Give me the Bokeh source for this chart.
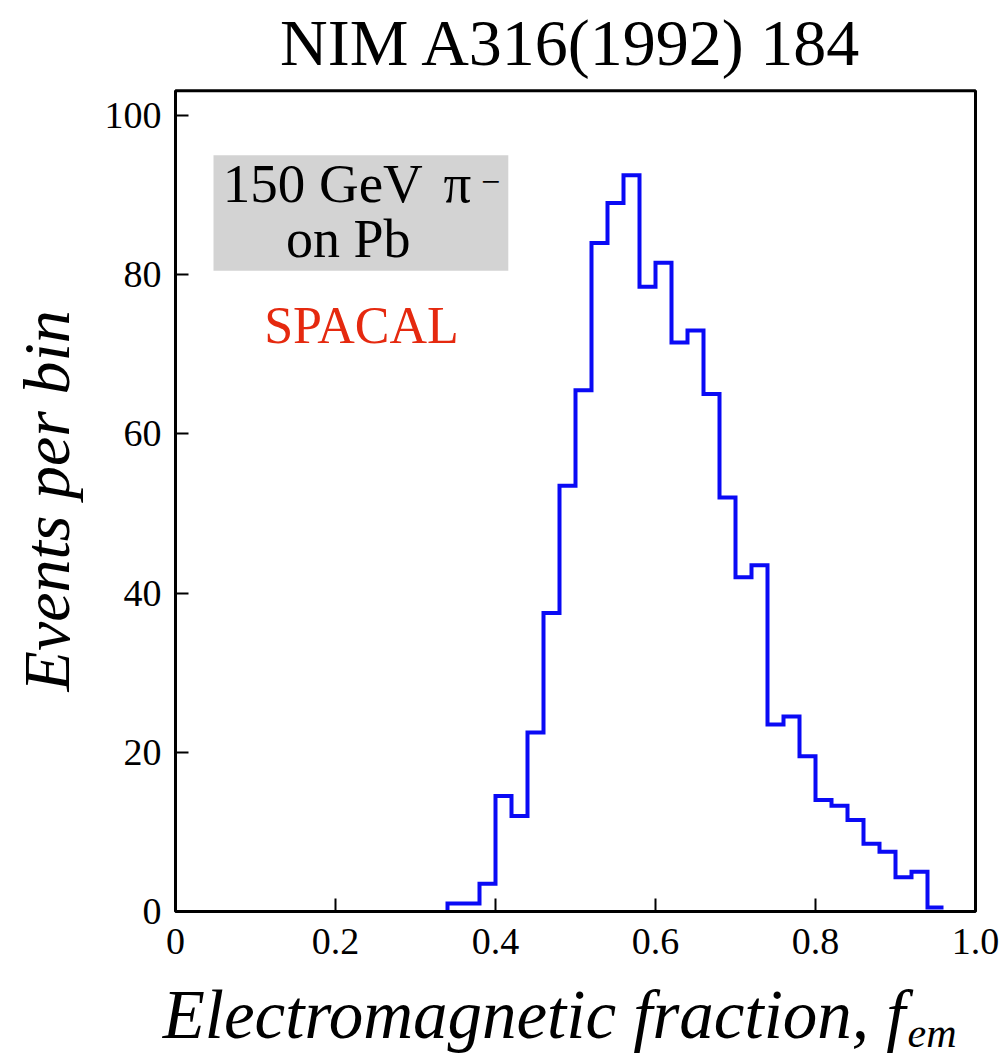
import math
from bokeh.plotting import figure
from bokeh.models import Label, BoxAnnotation, FixedTicker, Range1d
from bokeh.embed import file_html
from bokeh.resources import INLINE

# ---- data ----
bin_left = [0.34, 0.36, 0.38, 0.40, 0.42, 0.44, 0.46, 0.48, 0.50, 0.52,
            0.54, 0.56, 0.58, 0.60, 0.62, 0.64, 0.66, 0.68, 0.70, 0.72,
            0.74, 0.76, 0.78, 0.80, 0.82, 0.84, 0.86, 0.88, 0.90, 0.92, 0.94]
bin_width = 0.02
events = [1.0, 1.0, 3.5, 14.5, 12.0, 22.5, 37.5, 53.5, 65.5, 84.0,
          89.0, 92.5, 78.5, 81.5, 71.5, 73.0, 65.0, 52.0, 42.0, 43.5,
          23.5, 24.5, 19.5, 14.0, 13.3, 11.5, 8.5, 7.5, 4.3, 5.0, 0.5]
x_ticks = [0, 0.2, 0.4, 0.6, 0.8, 1.0]
x_tick_labels = ["0", "0.2", "0.4", "0.6", "0.8", "1.0"]
y_ticks = [0, 20, 40, 60, 80, 100]
x_min, x_max = 0.0, 1.0
y_min, y_max = 0.0, 103.1

title_text = "NIM A316(1992) 184"
x_title = "Electromagnetic fraction, f"
x_title_sub = "em"
y_title = "Events per bin"

SERIF = "Liberation Serif"

# step outline built from the bins
xs, ys = [], []
for i, (l, v) in enumerate(zip(bin_left, events)):
    prev = 0.0 if i == 0 else events[i - 1]
    xs += [l, l]
    ys += [prev, v]
xs.append(bin_left[-1] + bin_width)
ys.append(events[-1])

# the frame fills the canvas; axes sit at fixed locations inside it
p = figure(width=1006, height=1059, output_backend="svg", toolbar_location=None,
           x_range=Range1d(-0.21875, 1.03875), y_range=Range1d(-18.59, 114.45))
p.min_border = 0
p.min_border_left = 0
p.min_border_right = 0
p.min_border_top = 0
p.min_border_bottom = 0
p.background_fill_color = "white"
p.border_fill_color = "white"
p.outline_line_color = None
p.xgrid.visible = False
p.ygrid.visible = False

for ax in (p.xaxis, p.yaxis):
    ax.fixed_location = 0
    ax.axis_line_color = None
    ax.major_tick_in = 13
    ax.major_tick_out = 0
    ax.major_tick_line_width = 2
    ax.major_tick_line_color = "black"
    ax.minor_tick_line_color = None
    ax.major_label_text_font = SERIF
    ax.major_label_text_font_size = "38px"
    ax.major_label_text_color = "black"

p.xaxis.ticker = FixedTicker(ticks=x_ticks)
p.xaxis.major_label_overrides = {t: s for t, s in zip(x_ticks, x_tick_labels)}
p.xaxis.major_label_standoff = 17
p.yaxis.ticker = FixedTicker(ticks=y_ticks)
p.yaxis.major_label_overrides = {t: str(t) for t in y_ticks}
p.yaxis.major_label_standoff = 14

# plot frame
p.add_layout(BoxAnnotation(left=x_min, right=x_max, bottom=y_min, top=y_max,
                           fill_alpha=0.0, line_color="black", line_alpha=1.0,
                           line_width=3, level="overlay"))
# gray legend box
p.add_layout(BoxAnnotation(left=0.0475, right=0.416, bottom=80.5, top=95.0,
                           fill_color="#d3d3d3", fill_alpha=1.0, line_color=None,
                           level="underlay"))

p.line(xs, ys, line_color="#0a0af5", line_width=4, line_join="miter")

def lab(x, y, text, size, color="black", align="left", style="normal",
        base="alphabetic", angle=0.0):
    p.add_layout(Label(x=x, y=y, text=text, text_font=SERIF, text_font_size=size,
                       text_color=color, text_align=align, text_font_style=style,
                       text_baseline=base, angle=angle))

lab(0.495, 109.2, title_text, "66px", align="center")
lab(0.059, 91.4, "150 GeV", "55px")
lab(0.335, 91.4, "\u03c0", "55px")
lab(0.382, 91.6, "\u2212", "34px")
lab(0.216, 84.5, "on Pb", "54px", align="center")
lab(0.2325, 73.6, "SPACAL", "52px", color="#e5290f", align="center")
lab(0.9125, -13.0, x_title, "69px", align="right", style="italic")
lab(0.915, -15.2, x_title_sub, "42px", style="italic")
lab(-0.161, 51.6, y_title, "66px", align="center", style="italic", angle=math.pi / 2)

open("out.html", "w").write(file_html(p, INLINE))
